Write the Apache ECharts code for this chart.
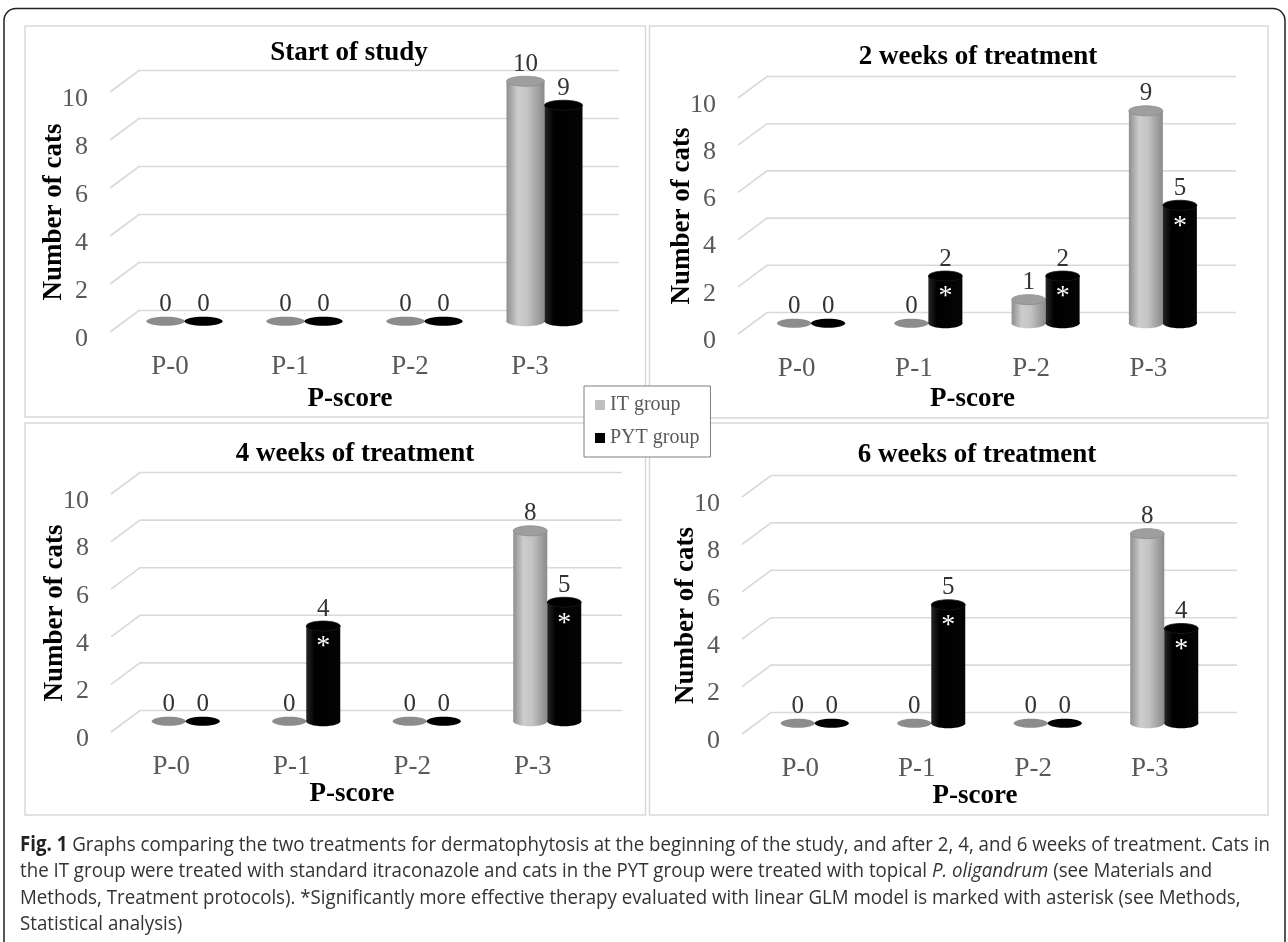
<!DOCTYPE html>
<html><head><meta charset="utf-8">
<script src="https://cdn.jsdelivr.net/npm/echarts@6/dist/echarts.min.js"></script>
<style>html,body{margin:0;padding:0;background:#fff;}#c{width:1288px;height:942px;}</style>
</head><body><div id="c"></div>
<script>
// ---------- data ----------
const categories = ['P-0', 'P-1', 'P-2', 'P-3'];
const yTicks = [0, 2, 4, 6, 8, 10];
const seriesNames = ['IT group', 'PYT group'];
const panelTitles = ['Start of study', '2 weeks of treatment', '4 weeks of treatment', '6 weeks of treatment'];
const itStart = [0, 0, 0, 10];
const pytStart = [0, 0, 0, 9];
const itWeek2 = [0, 0, 1, 9];
const pytWeek2 = [0, 2, 2, 5];
const itWeek4 = [0, 0, 0, 8];
const pytWeek4 = [0, 4, 0, 5];
const itWeek6 = [0, 0, 0, 8];
const pytWeek6 = [0, 5, 0, 4];
// significance asterisks on PYT bars
const sigStart = [0, 0, 0, 0];
const sigWeek2 = [0, 1, 1, 1];
const sigWeek4 = [0, 1, 0, 1];
const sigWeek6 = [0, 1, 0, 1];

const captionLines = [
  '{b|Fig. 1} Graphs comparing the two treatments for dermatophytosis at the beginning of the study, and after 2, 4, and 6 weeks of treatment. Cats in',
  'the IT group were treated with standard itraconazole and cats in the PYT group were treated with topical {i|P. oligandrum} (see Materials and',
  'Methods, Treatment protocols). *Significantly more effective therapy evaluated with linear GLM model is marked with asterisk (see Methods,',
  'Statistical analysis)'
];

// ---------- layout / style ----------
const SERIF = '"Liberation Serif", "Times New Roman", serif';
const CAPFONT = '"Open Sans", "Noto Sans", sans-serif';
const CAPSIZE = 20.5;
const DX = 29, DY = -21.5;
const panels = [
  { title: panelTitles[0], it: itStart, pyt: pytStart, sig: sigStart, box: [25, 26, 620.5, 391], grid: [110, 92, 480, 240], tXY: [349, 53], barW: 38, xGap: 54 },
  { title: panelTitles[1], it: itWeek2, pyt: pytWeek2, sig: sigWeek2, box: [649.5, 26, 618.5, 392], grid: [738, 98, 469, 236], tXY: [978, 57], barW: 34, xGap: 52 },
  { title: panelTitles[2], it: itWeek4, pyt: pytWeek4, sig: sigWeek4, box: [25, 423, 620.5, 392], grid: [111, 494, 482, 238], tXY: [355, 454], barW: 34, xGap: 49 },
  { title: panelTitles[3], it: itWeek6, pyt: pytWeek6, sig: sigWeek6, box: [649.5, 423, 618.5, 392], grid: [742, 497, 466, 237], tXY: [977, 455], barW: 34, xGap: 49 }
];

const grayGrad = { type: 'linear', x: 0, y: 0, x2: 1, y2: 0, colorStops: [
  { offset: 0, color: '#8e8e8e' }, { offset: 0.3, color: '#cdcdcd' }, { offset: 0.55, color: '#c4c4c4' }, { offset: 1, color: '#8a8a8a' } ] };
const blackGrad = { type: 'linear', x: 0, y: 0, x2: 1, y2: 0, colorStops: [
  { offset: 0, color: '#262626' }, { offset: 0.25, color: '#000' }, { offset: 1, color: '#050505' } ] };

function gridRender(params, api) {
  const cs = params.coordSys;
  const y = api.coord([0, api.value(1)])[1];
  const xL = cs.x, xR = cs.x + cs.width;
  return { type: 'polyline', silent: true,
    shape: { points: [[xL, y], [xL + DX, y + DY], [xR + DX, y + DY]] },
    style: { stroke: '#d9d9d9', lineWidth: 1.6, fill: null } };
}

function makeBarRender(sIdx, barW, sig) {
  return function (params, api) {
    const cat = api.value(0), v = api.value(1);
    const base = api.coord([cat, 0]);
    const top = api.coord([cat, v]);
    const rx = barW / 2;
    const cx = base[0] + DX / 2 + (sIdx === 0 ? -rx : rx);
    const by = base[1] + DY / 2;
    const ty = top[1] + DY / 2;
    const ch = [];
    const isIT = sIdx === 0;
    if (v === 0) {
      ch.push({ type: 'ellipse', shape: { cx: cx, cy: by, rx: rx, ry: 4.5 }, style: { fill: isIT ? '#8c8c8c' : '#000' } });
      ch.push({ type: 'text', style: { text: String(v), x: cx, y: by - 17, align: 'center', verticalAlign: 'middle', font: '25px ' + SERIF, fill: '#333' } });
    } else {
      const g = isIT ? grayGrad : blackGrad;
      ch.push({ type: 'ellipse', shape: { cx: cx, cy: by, rx: rx, ry: 5 }, style: { fill: g } });
      ch.push({ type: 'rect', shape: { x: cx - rx, y: ty, width: barW, height: by - ty }, style: { fill: g } });
      ch.push({ type: 'ellipse', shape: { cx: cx, cy: ty, rx: rx, ry: 5 }, style: { fill: isIT ? '#9e9e9e' : '#000', stroke: isIT ? '#8a8a8a' : '#1a1a1a', lineWidth: 0.8 } });
      ch.push({ type: 'text', style: { text: String(v), x: cx, y: ty - 17, align: 'center', verticalAlign: 'middle', font: '25px ' + SERIF, fill: '#333' } });
      if (sig && sig[cat]) {
        ch.push({ type: 'text', style: { text: '*', x: cx, y: ty + 21, align: 'center', verticalAlign: 'middle', font: '28px ' + SERIF, fill: '#fff' } });
      }
    }
    return { type: 'group', children: ch };
  };
}

const grid = [], xAxis = [], yAxis = [], series = [], graphic = [];
graphic.push({ type: 'rect', z: 0, silent: true, shape: { x: 4, y: 8.5, width: 1281, height: 945, r: 12 }, style: { fill: null, stroke: '#222', lineWidth: 1.5 } });

panels.forEach(function (p, k) {
  grid.push({ left: p.grid[0], top: p.grid[1], width: p.grid[2], height: p.grid[3] });
  xAxis.push({ gridIndex: k, type: 'category', data: categories,
    axisLine: { show: false }, axisTick: { show: false }, splitLine: { show: false },
    axisLabel: { margin: 21, fontFamily: SERIF, fontSize: 27, color: '#595959' },
    name: 'P-score', nameLocation: 'middle', nameGap: p.xGap, nameMoveOverlap: false,
    nameTextStyle: { fontFamily: SERIF, fontSize: 27, fontWeight: 'bold', color: '#000' } });
  yAxis.push({ gridIndex: k, type: 'value', min: yTicks[0], max: yTicks[yTicks.length - 1], interval: yTicks[1] - yTicks[0],
    axisLine: { show: false }, axisTick: { show: false }, splitLine: { show: false },
    axisLabel: { margin: 22, fontFamily: SERIF, fontSize: 26, color: '#595959', verticalAlign: 'top', lineHeight: 14 },
    name: 'Number of cats', nameLocation: 'middle', nameGap: 42, nameRotate: 90, nameMoveOverlap: false,
    nameTextStyle: { fontFamily: SERIF, fontSize: 27, fontWeight: 'bold', color: '#000' } });
  series.push({ type: 'custom', xAxisIndex: k, yAxisIndex: k, z: 1, silent: true,
    renderItem: gridRender, encode: { x: 0, y: 1 }, data: yTicks.map(function (t) { return [0, t]; }) });
  [p.it, p.pyt].forEach(function (vals, s) {
    series.push({ type: 'custom', name: seriesNames[s], xAxisIndex: k, yAxisIndex: k, z: 2 + s,
      itemStyle: { color: s === 0 ? '#bfbfbf' : '#000' },
      renderItem: makeBarRender(s, p.barW, s === 1 ? p.sig : null), encode: { x: 0, y: 1 },
      data: vals.map(function (v, i) { return [i, v]; }) });
  });
  graphic.push({ type: 'rect', z: 0, silent: true, shape: { x: p.box[0], y: p.box[1], width: p.box[2], height: p.box[3] }, style: { fill: null, stroke: '#d9d9d9', lineWidth: 1.5 } });
  graphic.push({ type: 'text', z: 5, silent: true, x: p.tXY[0], y: p.tXY[1], style: { text: p.title, align: 'center', verticalAlign: 'middle', font: 'bold 27px ' + SERIF, fill: '#000' } });
});

// caption: compress horizontally to the reference line width
const mctx = document.createElement('canvas').getContext('2d');
mctx.font = CAPSIZE + 'px ' + CAPFONT;
const plain1 = captionLines[0].replace('{b|Fig. 1}', '');
let w1 = mctx.measureText(plain1).width;
mctx.font = 'bold ' + CAPSIZE + 'px ' + CAPFONT;
w1 += mctx.measureText('Fig. 1').width;
const capScale = 1250 / w1;

graphic.push({ type: 'text', z: 5, silent: true, x: 20, y: 832, scaleX: capScale,
  style: { text: captionLines.join('\n'), x: 0, y: 0, align: 'left', verticalAlign: 'top',
    font: CAPSIZE + 'px ' + CAPFONT, fill: '#333', lineHeight: 26.3,
    rich: { b: { fontFamily: CAPFONT, fontSize: CAPSIZE, fontWeight: 'bold', fill: '#222', lineHeight: 26.3 },
            i: { fontFamily: CAPFONT, fontSize: CAPSIZE, fontStyle: 'italic', fill: '#333', lineHeight: 26.3 } } } });

const chart = echarts.init(document.getElementById('c'), null, { renderer: 'canvas' });
chart.setOption({
  animation: false,
  backgroundColor: '#fff',
  grid: grid, xAxis: xAxis, yAxis: yAxis, series: series, graphic: graphic,
  legend: { data: [{ name: seriesNames[0], icon: 'rect' }, { name: seriesNames[1], icon: 'rect' }],
    orient: 'vertical', left: 584, top: 386, itemWidth: 10, itemHeight: 10, itemGap: 13,
    padding: [9, 11, 9, 11], backgroundColor: '#fff', borderColor: '#7f7f7f', borderWidth: 1,
    selectedMode: false, z: 10,
    textStyle: { fontFamily: SERIF, fontSize: 20, color: '#595959', lineHeight: 20 } }
});
</script></body></html>
